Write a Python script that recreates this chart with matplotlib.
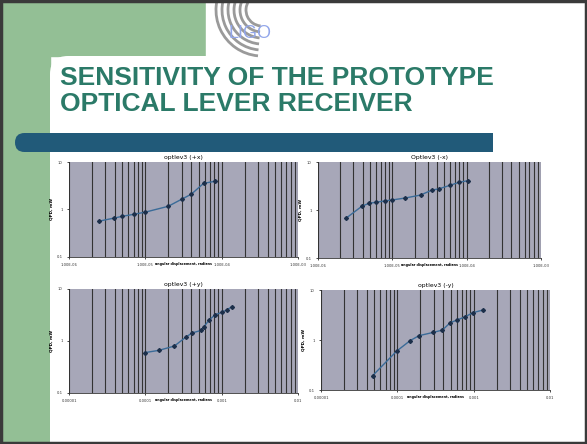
import matplotlib
matplotlib.use("Agg")
import matplotlib.pyplot as plt
from matplotlib.patches import Rectangle, FancyBboxPatch, Arc
from matplotlib.ticker import FixedLocator, FixedFormatter, LogLocator, NullFormatter

W, H = 587, 444
DPI = 100

title_lines = ["SENSITIVITY OF THE PROTOTYPE", "OPTICAL LEVER RECEIVER"]
logo_text = "LIGO"

panel_titles = ["optlev3 (+x)", "Optlev3 (-x)", "optlev3 (+y)", "optlev3 (-y)"]
xlabel_text = "angular displacement, radians"
ylabel_text = "QPD, mW"

# data (angular displacement [rad], QPD signal [mW])
x_px = [2.5e-6, 3.9e-6, 5e-6, 7e-6, 1e-5, 2e-5, 3e-5, 4e-5, 5.8e-5, 8.3e-5]
y_px = [0.57, 0.66, 0.72, 0.79, 0.88, 1.17, 1.65, 2.1, 3.55, 3.95]

x_mx = [2.4e-6, 3.9e-6, 4.8e-6, 6e-6, 8e-6, 1e-5, 1.5e-5, 2.4e-5, 3.4e-5, 4.2e-5, 5.9e-5, 7.8e-5, 1.05e-4]
y_mx = [0.68, 1.2, 1.37, 1.45, 1.55, 1.62, 1.78, 2.05, 2.6, 2.75, 3.25, 3.75, 4.1]

x_py = [1e-4, 1.5e-4, 2.4e-4, 3.4e-4, 4.1e-4, 5.4e-4, 5.9e-4, 6.8e-4, 8.2e-4, 1e-3, 1.18e-3, 1.37e-3]
y_py = [0.6, 0.66, 0.8, 1.19, 1.43, 1.6, 1.9, 2.5, 3.2, 3.55, 4.0, 4.6]

x_my = [4.75e-5, 9.8e-5, 1.47e-4, 1.92e-4, 2.96e-4, 3.9e-4, 4.9e-4, 6e-4, 7.7e-4, 9.7e-4, 1.34e-3]
y_my = [0.194, 0.6, 0.97, 1.22, 1.42, 1.58, 2.2, 2.5, 2.9, 3.5, 4.0]

xticks_top = [1e-6, 1e-5, 1e-4, 1e-3]
xticklabels_top = ["1.00E-06", "1.00E-05", "1.00E-04", "1.00E-03"]
xticks_bot = [1e-5, 1e-4, 1e-3, 1e-2]
xticklabels_bot = ["0.00001", "0.0001", "0.001", "0.01"]
yticks = [0.1, 1, 10]
yticklabels = ["0.1", "1", "10"]

fig = plt.figure(figsize=(W / DPI, H / DPI), dpi=DPI)
fig.patch.set_facecolor("white")

bg = fig.add_axes([0, 0, 1, 1])
bg.set_xlim(0, W)
bg.set_ylim(H, 0)
bg.axis("off")

green = "#93bf95"
# green side strip and top-left block
bg.add_patch(Rectangle((0, 0), 50, H, color=green, zorder=1))
bg.add_patch(Rectangle((0, 0), 206, 56, color=green, zorder=1))
# white rounded content area corner
bg.add_patch(FancyBboxPatch((50, 56), W, H, boxstyle="round,pad=0,rounding_size=18",
                            facecolor="white", edgecolor="none", zorder=2))
bg.add_patch(Rectangle((206, 0), W, 70, color="white", zorder=2))

# logo arcs
for r in [16, 22, 28, 34, 40, 46]:
    bg.add_patch(Arc((262, 10), 2 * r, 2 * r, theta1=95, theta2=215, color="#9a9a9a", lw=2.0, zorder=3))
bg.text(229, 33, logo_text, fontsize=13, color="#92a6ea", family="Liberation Sans",
        va="center", ha="left", zorder=4)

# title
for i, line in enumerate(title_lines):
    bg.text(60, 78 + i * 26, line, fontsize=19, fontweight="bold", color="#2b7a68",
            family="Liberation Sans", va="center", ha="left", zorder=4)

# dark bar
bg.add_patch(FancyBboxPatch((15, 133), 478, 19, boxstyle="round,pad=0,rounding_size=9.5",
                            facecolor="#215a79", edgecolor="none", zorder=4))
bg.add_patch(Rectangle((470, 133), 23, 19, facecolor="#215a79", edgecolor="none", zorder=4))

# border
bg.add_patch(Rectangle((1, 1), W - 2, H - 2, fill=False, edgecolor="#3a3a3a", lw=2.5, zorder=10))


def px_axes(x0, y0, x1, y1):
    return fig.add_axes([x0 / W, 1 - y1 / H, (x1 - x0) / W, (y1 - y0) / H])


panels = [
    ((69, 162, 298, 257), x_px, y_px, xticks_top, xticklabels_top),
    ((318, 162, 541, 258), x_mx, y_mx, xticks_top, xticklabels_top),
    ((69, 289, 298, 393), x_py, y_py, xticks_bot, xticklabels_bot),
    ((321, 290, 550, 390), x_my, y_my, xticks_bot, xticklabels_bot),
]

for (box, xs, ys, xt, xtl), ttl in zip(panels, panel_titles):
    ax = px_axes(*box)
    ax.set_zorder(5)
    ax.set_facecolor("#a7a7b8")
    ax.set_xscale("log")
    ax.set_yscale("log")
    ax.set_xlim(xt[0], xt[-1])
    ax.set_ylim(0.1, 10)
    ax.xaxis.set_major_locator(FixedLocator(xt))
    ax.xaxis.set_major_formatter(FixedFormatter(xtl))
    ax.xaxis.set_minor_locator(LogLocator(base=10, subs=range(2, 10)))
    ax.xaxis.set_minor_formatter(NullFormatter())
    ax.yaxis.set_major_locator(FixedLocator(yticks))
    ax.yaxis.set_major_formatter(FixedFormatter(yticklabels))
    ax.yaxis.set_minor_locator(FixedLocator([]))
    ax.grid(True, axis="x", which="both", color="#333333", lw=0.8)
    ax.tick_params(axis="both", which="both", labelsize=2.7, length=1.5, width=0.5, pad=3,
                   labelcolor="#333333")
    ax.tick_params(axis="x", which="minor", length=0)
    for lab in ax.get_xticklabels() + ax.get_yticklabels():
        lab.set_family("Liberation Sans Narrow")
    for s in ["top", "right"]:
        ax.spines[s].set_visible(False)
    for s in ["left", "bottom"]:
        ax.spines[s].set_color("#333333")
        ax.spines[s].set_linewidth(0.6)
    ax.plot(xs, ys, color="#3a6b98", lw=1.0, marker="D", ms=2.0,
            mfc="#1c2f4a", mec="#1c2f4a", zorder=3)
    ax.set_title(ttl, fontsize=4.4, pad=2.5, family="Liberation Sans Narrow")
    ax.set_xlabel(xlabel_text, fontsize=2.4, fontweight="bold", labelpad=-4.0,
                  family="Liberation Sans Narrow")
    ax.set_ylabel(ylabel_text, fontsize=3.0, fontweight="bold", labelpad=2,
                  family="Liberation Sans Narrow")

fig.savefig("out.png", dpi=DPI)
